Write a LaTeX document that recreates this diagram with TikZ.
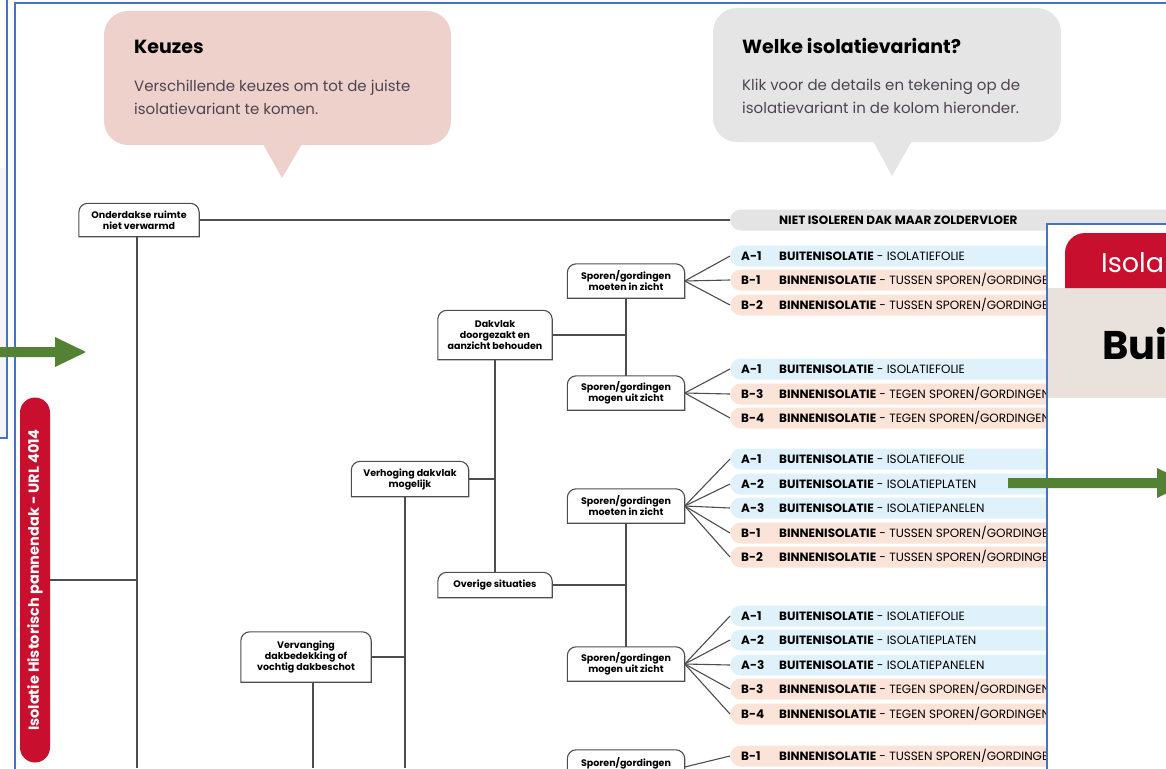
\documentclass[tikz,border=0pt]{standalone}
\usepackage{fontspec}
\setmainfont{Poppins}
\usepackage{tikz}
\definecolor{kaderblauw}{RGB}{68, 114, 196}
\definecolor{pijlgroen}{RGB}{84, 130, 53}
\definecolor{titelrood}{RGB}{200, 16, 46}
\definecolor{keuzeroze}{RGB}{239, 209, 203}
\definecolor{variantgrijs}{RGB}{230, 229, 230}
\definecolor{buitenblauw}{RGB}{223, 241, 251}
\definecolor{binnenroze}{RGB}{251, 227, 216}
\definecolor{nietgrijs}{RGB}{228, 228, 228}
\definecolor{lijngrijs}{RGB}{77, 77, 77}
\definecolor{uitleggrijs}{RGB}{76, 69, 80}
\definecolor{beige}{RGB}{232, 225, 220}
\definecolor{lichtgrijs}{RGB}{244, 244, 244}

% top corners round, bottom corners square
\newcommand{\bovenrand}[1]{%
  \draw[lijn] (#1.south west) -- ([yshift=-9pt]#1.north west)
    arc[start angle=180, end angle=90, radius=9pt]
    -- ([xshift=-9pt]#1.north east)
    arc[start angle=90, end angle=0, radius=9pt]
    -- (#1.south east) -- cycle;}
\newcommand{\rij}[3]{\makebox[330pt][l]{\makebox[38pt][l]{\bfseries #1}\textbf{#2} - #3}}

\begin{document}
\begin{tikzpicture}[x=1pt, y=-1pt,
  lijn/.style={draw=lijngrijs, line width=1.1pt},
  keuze/.style={font=\fontsize{9.5}{11}\selectfont\bfseries, align=center, inner sep=0pt},
  variant/.style={anchor=west, rounded corners=10.5pt, minimum height=21pt,
    inner xsep=11pt, inner ysep=0pt, font=\fontsize{12}{14}\selectfont},
  buiten/.style={variant, fill=buitenblauw},
  binnen/.style={variant, fill=binnenroze},
  kop/.style={anchor=base west, inner sep=0pt, font=\fontsize{19}{22}\selectfont\bfseries},
  uitleg/.style={anchor=base west, inner sep=0pt, text=uitleggrijs, font=\fontsize{15}{18}\selectfont}]
  \useasboundingbox (0,0) rectangle (1166,768);
  \clip (0,0) rectangle (1166,768);

  % frames of the screenshot
  \fill[lichtgrijs] (-5,168) rectangle (7,438);
  \draw[kaderblauw, line width=1.6pt] (7,-5) -- (7,438) -- (-5,438);
  \draw[kaderblauw, line width=1.6pt] (15,780) -- (15,3) -- (1180,3);

  % speech bubbles
  \fill[keuzeroze, rounded corners=24pt] (104,11) rectangle (451,145);
  \fill[keuzeroze] (263,144) -- (282,178) -- (302,144) -- cycle;
  \node[kop] (keuzeskop) at (134,53) {Keuzes};
  \node[uitleg] (keuzes1) at (134,91) {Verschillende keuzes om tot de juiste};
  \node[uitleg] (keuzes2) at (134,114) {isolatievariant te komen.};

  \fill[variantgrijs, rounded corners=24pt] (713,8) rectangle (1061,142);
  \fill[variantgrijs] (873,141) -- (892,176) -- (912,141) -- cycle;
  \node[kop] (welkekop) at (742,53) {Welke isolatievariant?};
  \node[uitleg] (welke1) at (742,90) {Klik voor de details en tekening op de};
  \node[uitleg] (welke2) at (742,113) {isolatievariant in de kolom hieronder.};

  % title
  \node[fill=titelrood, text=white, rotate=90, minimum width=365pt, minimum height=30pt,
    rounded corners=15pt, inner sep=0pt, font=\fontsize{14.5}{16}\selectfont\bfseries]
    (titel) at (35,580) {Isolatie Historisch pannendak - URL 4014};

  % choices
  \node[keuze, minimum width=120pt, minimum height=33pt] (onder) at (139,220) {Onderdakse ruimte\\niet verwarmd};
  \node[keuze, minimum width=130pt, minimum height=50pt] (verv) at (306,657) {Vervanging\\dakbedekking of\\vochtig dakbeschot};
  \node[keuze, minimum width=117pt, minimum height=35pt] (verh) at (410,479) {Verhoging dakvlak\\mogelijk};
  \node[keuze, minimum width=114pt, minimum height=49pt] (dak) at (495,335) {Dakvlak\\doorgezakt en\\aanzicht behouden};
  \node[keuze, minimum width=114pt, minimum height=25pt] (ov) at (495,585) {Overige situaties};
  \node[keuze, minimum width=117pt, minimum height=34pt] (sp1) at (626,281) {Sporen/gordingen\\moeten in zicht};
  \node[keuze, minimum width=117pt, minimum height=34pt] (sp2) at (626,393) {Sporen/gordingen\\mogen uit zicht};
  \node[keuze, minimum width=117pt, minimum height=34pt] (sp3) at (626,506) {Sporen/gordingen\\moeten in zicht};
  \node[keuze, minimum width=117pt, minimum height=34pt] (sp4) at (626,664) {Sporen/gordingen\\mogen uit zicht};
  \node[keuze, minimum width=117pt, minimum height=34pt] (sp5) at (626,767) {Sporen/gordingen\\ };

  \coordinate (onderstam) at (137,768);
  \coordinate (vervstam) at (313,768);
  \coordinate (verhstam) at (405,768);

  % variants
  \node[variant, fill=nietgrijs] (niet) at (730,220) {\makebox[440pt][l]{\hspace*{38pt}\textbf{NIET ISOLEREN DAK MAAR ZOLDERVLOER}}};

  \node[buiten] (g1a1) at (730,256) {\rij{A-1}{BUITENISOLATIE}{ISOLATIEFOLIE}};
  \node[binnen] (g1b1) at (730,280) {\rij{B-1}{BINNENISOLATIE}{TUSSEN SPOREN/GORDINGEN}};
  \node[binnen] (g1b2) at (730,305) {\rij{B-2}{BINNENISOLATIE}{TUSSEN SPOREN/GORDINGEN}};

  \node[buiten] (g2a1) at (730,369) {\rij{A-1}{BUITENISOLATIE}{ISOLATIEFOLIE}};
  \node[binnen] (g2b3) at (730,394) {\rij{B-3}{BINNENISOLATIE}{TEGEN SPOREN/GORDINGEN}};
  \node[binnen] (g2b4) at (730,418) {\rij{B-4}{BINNENISOLATIE}{TEGEN SPOREN/GORDINGEN M}};

  \node[buiten] (g3a1) at (730,459) {\rij{A-1}{BUITENISOLATIE}{ISOLATIEFOLIE}};
  \node[buiten] (g3a2) at (730,484) {\rij{A-2}{BUITENISOLATIE}{ISOLATIEPLATEN}};
  \node[buiten] (g3a3) at (730,508) {\rij{A-3}{BUITENISOLATIE}{ISOLATIEPANELEN}};
  \node[binnen] (g3b1) at (730,533) {\rij{B-1}{BINNENISOLATIE}{TUSSEN SPOREN/GORDINGEN}};
  \node[binnen] (g3b2) at (730,557) {\rij{B-2}{BINNENISOLATIE}{TUSSEN SPOREN/GORDINGEN}};

  \node[buiten] (g4a1) at (730,616) {\rij{A-1}{BUITENISOLATIE}{ISOLATIEFOLIE}};
  \node[buiten] (g4a2) at (730,640) {\rij{A-2}{BUITENISOLATIE}{ISOLATIEPLATEN}};
  \node[buiten] (g4a3) at (730,665) {\rij{A-3}{BUITENISOLATIE}{ISOLATIEPANELEN}};
  \node[binnen] (g4b3) at (730,689) {\rij{B-3}{BINNENISOLATIE}{TEGEN SPOREN/GORDINGEN}};
  \node[binnen] (g4b4) at (730,714) {\rij{B-4}{BINNENISOLATIE}{TEGEN SPOREN/GORDINGEN M}};

  \node[binnen] (g5b1) at (730,756) {\rij{B-1}{BINNENISOLATIE}{TUSSEN SPOREN/GORDINGEN}};

  % connections
  \draw[lijn] (onder.east) -- (niet.west);
  \draw[lijn] (onder.south -| onderstam) -- (onderstam);
  \draw[lijn] (titel.south) -- (titel.south -| onderstam);
  \draw[lijn] (verv.south -| vervstam) -- (vervstam);
  \draw[lijn] (verv.east) -- (verv.east -| verhstam);
  \draw[lijn] (verh.south -| verhstam) -- (verhstam);
  \draw[lijn] (verh.east) -- (verh.east -| dak.south);
  \draw[lijn] (dak.south) -- (ov.north);
  \draw[lijn] (dak.east) -- (dak.east -| sp1.south);
  \draw[lijn] (sp1.south) -- (sp2.north);
  \draw[lijn] (ov.east) -- (ov.east -| sp3.south);
  \draw[lijn] (sp3.south) -- (sp4.north);

  \foreach \v in {g1a1, g1b1, g1b2} \draw[lijn] (sp1.east) -- (\v.west);
  \foreach \v in {g2a1, g2b3, g2b4} \draw[lijn] (sp2.east) -- (\v.west);
  \foreach \v in {g3a1, g3a2, g3a3, g3b1, g3b2} \draw[lijn] (sp3.east) -- (\v.west);
  \foreach \v in {g4a1, g4a2, g4a3, g4b3, g4b4} \draw[lijn] (sp4.east) -- (\v.west);
  \draw[lijn] (sp5.east) -- (g5b1.west);

  \foreach \n in {onder, verv, verh, dak, ov, sp1, sp2, sp3, sp4, sp5} \bovenrand{\n};

  % overlapping window
  \fill[white] (1047,224) rectangle (1180,780);
  \fill[beige] (1047,288) rectangle (1180,398);
  \fill[titelrood] (1065,288) -- (1065,253) arc[start angle=180, end angle=90, radius=20pt]
    -- (1180,233) -- (1180,288) -- cycle;
  \node[anchor=base west, inner sep=0pt, text=white, font=\fontsize{27}{30}\selectfont] (tabtekst) at (1101,272) {Isola};
  \node[anchor=base west, inner sep=0pt, font=\fontsize{40}{44}\selectfont\bfseries] (venster) at (1102,359) {Bui};
  \draw[kaderblauw, line width=1.6pt] (1047,780) -- (1047,224) -- (1180,224);

  % arrows
  \fill[pijlgroen] (-5,347) -- (55,347) -- (55,337) -- (86,352) -- (55,367) -- (55,357) -- (-5,357) -- cycle;
  \fill[pijlgroen] (1008,478) -- (1157,478) -- (1157,468) -- (1188,483) -- (1157,498) -- (1157,488) -- (1008,488) -- cycle;
\end{tikzpicture}
\end{document}
